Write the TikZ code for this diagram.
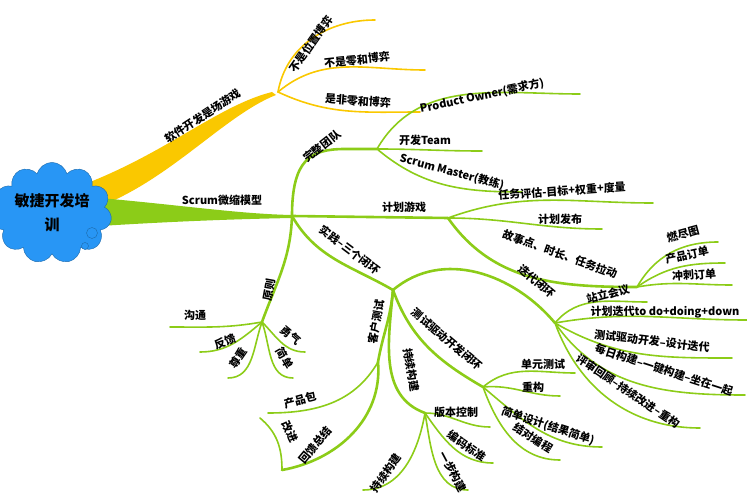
\documentclass[tikz,border=0pt]{standalone}
\usepackage{fontspec}
\setmainfont{Noto Sans CJK SC}
\usetikzlibrary{shapes.symbols, calc}
\definecolor{mapgreen}{RGB}{140,204,24}
\definecolor{mapyellow}{RGB}{250,200,0}
\definecolor{cloudblue}{RGB}{40,150,245}

\begin{document}
\begin{tikzpicture}[x=1pt, y=-1pt]
        \useasboundingbox (0,0) rectangle (747,500);

        \tikzstyle{stem} = [draw=mapgreen, line width=2.6pt, line cap=round];
        \tikzstyle{leaf} = [draw=mapgreen, line width=1.6pt, line cap=round];
        \tikzstyle{yleaf} = [draw=mapyellow, line width=1.6pt, line cap=round];
        \tikzstyle{lbl} = [inner sep=0pt, font=\fontsize{11}{13}\selectfont\bfseries];

        % junctions
        \coordinate (R) at (52,213);
        \coordinate (Y) at (278,92);
        \coordinate (G) at (292,216);
        \coordinate (T) at (377,149);
        \coordinate (P) at (448,218);
        \coordinate (S) at (637,287);
        \coordinate (J) at (393,290);
        \coordinate (I) at (555,323);
        \coordinate (D) at (483,387);
        \coordinate (C) at (425,413);
        \coordinate (K) at (378,362);
        \coordinate (F) at (282,470);
        \coordinate (Q) at (262,322);

        % thick roots
        \fill [mapyellow] (90,182) .. controls (170,150) and (220,105) .. (272,92) --
            (276,95) .. controls (225,115) and (170,180) .. (98,207) -- cycle;
        \fill [mapgreen] (100,198) .. controls (180,205) and (240,214) .. (292,215) --
            (292,218) .. controls (240,219) and (180,221) .. (100,226) -- cycle;

        \node [cloud, cloud puffs=11, aspect=1.3, fill=cloudblue, draw=cloudblue!70!black,
            minimum width=100pt, minimum height=74pt, align=center, inner sep=0pt,
            font=\fontsize{15}{24}\selectfont\bfseries] (root) at (R) {敏捷开发培\\训};
        \node [circle, fill=cloudblue, draw=cloudblue!70!black, minimum size=11pt, inner sep=0pt] (b1) at (92,233) {};
        \node [circle, fill=cloudblue, draw=cloudblue!70!black, minimum size=7pt, inner sep=0pt] (b2) at (85,246) {};

        \node [lbl, rotate=33] (y0) at (203,116) {软件开发是场游戏};
        \node [lbl] (g0) at (222,200) {Scrum微缩模型};

        % yellow leaves
        \foreach \ox/\ex/\ey/\tx/\ty/\tr/\lab in {
            80/375/20/311/44/55/不是位置博弈,
            40/425/70/357/60/6/不是零和博弈,
            -25/420/112/358/101/-4/是非零和博弈}{
            \draw [yleaf] (Y) to[out=\ox, in=180] (\ex,\ey);
            \node [lbl, rotate=\tr] at (\tx,\ty) {\lab};
        }

        % second level stems
        \draw [stem] (G) .. controls (292,160) and (310,149) .. (345,149) -- (T);
        \draw [stem] (G) -- (P);
        \draw [stem] (G) to[out=-60, in=150] (J);
        \draw [stem] (G) to[out=-92, in=70] (Q);
        \draw [stem] (S) to[out=180, in=-55] (P);
        \draw [stem] (J) to[out=40, in=130] (I);
        \draw [stem] (J) to[out=-70, in=150] (D);
        \draw [stem] (J) to[out=-95, in=160] (C);
        \draw [stem] (J) to[out=-95, in=80] (K);
        \draw [stem] (K) to[out=-85, in=10] (F);

        \node [lbl, rotate=38] (t0) at (322,146) {完整团队};
        \node [lbl] (p0) at (404,207) {计划游戏};
        \node [lbl, rotate=-20] (s0) at (560,254) {故事点、时长、任务拉动};
        \node [lbl, rotate=-37] (j0) at (350,250) {实践--三个闭环};
        \node [lbl, rotate=-40] (i0) at (537,281) {迭代闭环};
        \node [lbl, rotate=-40] (d0) at (447,339) {测试驱动开发闭环};
        \node [lbl, rotate=-80] (c0) at (411,370) {持续构建};
        \node [lbl, rotate=80] (k0) at (376,322) {客户测试};
        \node [lbl, rotate=80] (q0) at (269,290) {原则};
        \node [lbl, rotate=50] (f0) at (315,445) {回馈总结};

        % green leaves (parent / out / in / end x / end y / text x / text y / rotate / text)
        \foreach \pa/\ox/\ix/\ex/\ey/\tx/\ty/\tr/\lab in {
            T/60/180/580/94/482/96/12/Product Owner(需求方),
            T/0/180/482/151/425/140/0/开发Team,
            T/-40/180/522/192/452/172/-15/Scrum Master(教练),
            P/20/180/653/203/562/191/4/任务评估-目标+权重+度量,
            P/0/180/602/229/560/219/0/计划发布,
            S/60/180/718/242/683/234/15/燃尽图,
            S/35/180/725/263/687/255/12/产品订单,
            S/10/180/732/285/694/275/4/冲刺订单,
            I/50/180/647/302/608/294/15/站立会议,
            I/10/180/747/320/665/312/0/计划迭代to do+doing+down,
            I/-30/180/732/358/652/341/-7/测试驱动开发--设计迭代,
            I/-55/180/745/395/664/370/-18/每日构建--一键构建--坐在一起,
            I/-70/180/700/428/628/391/-34/评审回顾--持续改进--重构,
            D/40/180/575/373/543/364/0/单元测试,
            D/5/180/560/396/533/387/0/重构,
            D/-40/180/602/447/548/426/-18/简单设计(结果简单),
            D/-70/180/560/460/533/438/-32/结对编程,
            C/0/180/490/427/456/412/0/版本控制,
            C/-55/180/493/463/467/446/-35/编码标准,
            C/-80/180/468/490/453/472/-62/一步构建,
            Q/-170/0/170/327/195/315/0/沟通,
            Q/-140/0/200/352/225/342/20/反馈,
            Q/-110/0/228/378/238/358/55/尊重,
            Q/-70/180/293/378/285/358/-60/简单,
            Q/-45/180/305/352/291/335/-40/勇气,
            C/-100/0/363/490/386/473/55/持续构建,
            K/-120/0/268/413/300/400/15/产品包,
            F/90/-40/260/418/290/432/-65/改进}{
            \draw [leaf] (\pa) to[out=\ox, in=\ix] (\ex,\ey);
            \node [lbl, rotate=\tr] at (\tx,\ty) {\lab};
        }
    \end{tikzpicture}
\end{document}
